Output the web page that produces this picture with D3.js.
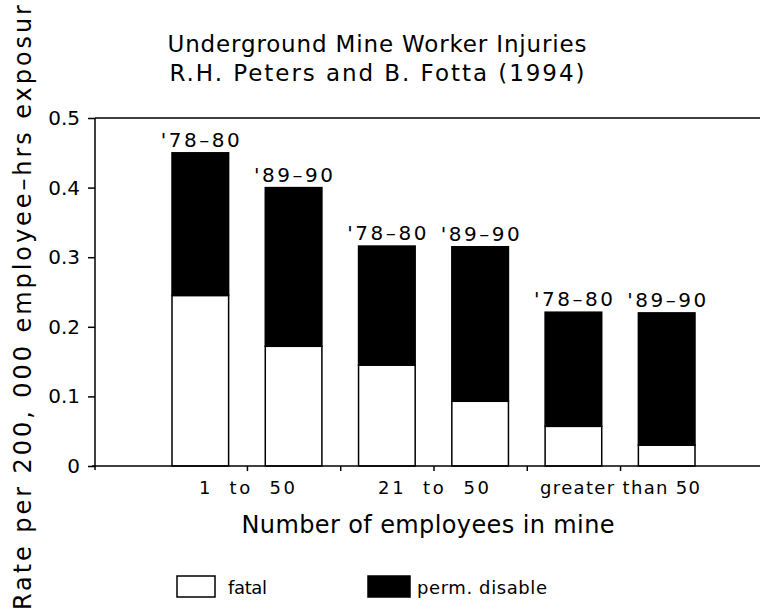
<!DOCTYPE html>
<html><head><meta charset="utf-8">
<script src="https://cdn.jsdelivr.net/npm/d3@7/dist/d3.min.js"></script>
<style>
body{margin:0;background:#fff}
text{font-family:"DejaVu Sans",sans-serif;fill:#000}
</style>
</head><body>
<svg id="c" width="760" height="613"></svg>
<script>
// ---- data ----
const titleLines = ["Underground Mine Worker Injuries", "R.H. Peters and B. Fotta (1994)"];
const groups = ["1  to  50", "21  to  50", "greater than 50"];
const periods = ["'78–80", "'89–90", "'78–80", "'89–90", "'78–80", "'89–90"];
const fatal = [0.245, 0.172, 0.145, 0.093, 0.057, 0.030];
const permDisable = [0.205, 0.228, 0.171, 0.222, 0.164, 0.190];
const yTicks = [0, 0.1, 0.2, 0.3, 0.4, 0.5];
const yTickLabels = ["0", "0.1", "0.2", "0.3", "0.4", "0.5"];
const seriesNames = ["fatal", "perm. disable"];
const xTitle = "Number of employees in mine";
const yTitle = "Rate per 200, 000 employee–hrs exposur";

// ---- layout ----
const svg = d3.select("#c");
const axisX = 95, axisRight = 760;
const y = d3.scaleLinear().domain([0, 0.5]).range([466, 118]);
const x = d3.scaleBand().domain(d3.range(periods.length)).range([172, 695]).paddingInner(0.393).paddingOuter(0);
const bw = x.bandwidth(), step = x.step();
const xc = d3.scaleLinear().domain([0, periods.length])
  .range([x(0) - (step - bw) / 2, x(periods.length - 1) + bw + (step - bw) / 2]);

function fitText(sel, len) { sel.attr("textLength", len).attr("lengthAdjust", "spacing"); return sel; }

// title
const titleY = [52, 81], titleW = [419, 415];
titleLines.forEach((t, i) => {
  fitText(svg.append("text").attr("x", 377).attr("y", titleY[i]).attr("text-anchor", "middle")
    .attr("font-size", 23).text(t), titleW[i]);
});

// y axis
const gy = svg.append("g").attr("transform", `translate(${axisX},0)`)
  .call(d3.axisLeft(y).tickValues(yTicks).tickFormat((d, i) => yTickLabels[i])
    .tickSize(7).tickSizeOuter(0).tickPadding(8));
gy.attr("font-size", 20).attr("font-family", "DejaVu Sans");
gy.select(".domain").remove();
gy.selectAll("line").attr("stroke", "#000").attr("stroke-width", 1.5);
gy.selectAll("text").attr("fill", "#000");
svg.append("line").attr("x1", axisX).attr("x2", axisX).attr("y1", y(0.5)).attr("y2", y(0) + 4)
  .attr("stroke", "#000").attr("stroke-width", 1.5);
// top frame line
svg.append("line").attr("x1", axisX).attr("x2", axisRight).attr("y1", y(0.5)).attr("y2", y(0.5))
  .attr("stroke", "#000").attr("stroke-width", 1.5);

// bars
const stacked = periods.map((p, i) => ({ i, fatal: fatal[i], perm: permDisable[i] }));
svg.append("g").selectAll("rect.fatal").data(stacked).join("rect")
  .attr("x", d => x(d.i)).attr("width", bw)
  .attr("y", d => y(d.fatal)).attr("height", d => y(0) - y(d.fatal))
  .attr("fill", "#fff").attr("stroke", "#000").attr("stroke-width", 1.5);
svg.append("g").selectAll("rect.perm").data(stacked).join("rect")
  .attr("x", d => x(d.i)).attr("width", bw)
  .attr("y", d => y(d.fatal + d.perm)).attr("height", d => y(d.fatal) - y(d.fatal + d.perm))
  .attr("fill", "#000").attr("stroke", "#000").attr("stroke-width", 1.5);

// bar labels
svg.append("g").selectAll("text").data(stacked).join("text")
  .attr("x", d => x(d.i) + bw / 2).attr("y", d => y(d.fatal + d.perm) - 6)
  .attr("text-anchor", "middle").attr("font-size", 20)
  .attr("textLength", 79).attr("lengthAdjust", "spacing")
  .text(d => periods[d.i]);

// x axis
const gx = svg.append("g").attr("transform", `translate(0,${y(0)})`)
  .call(d3.axisBottom(xc).tickValues(d3.range(1, periods.length)).tickFormat("").tickSize(5).tickSizeOuter(0));
gx.select(".domain").remove();
gx.selectAll("line").attr("stroke", "#000").attr("stroke-width", 1.5);
svg.append("line").attr("x1", axisX - 3).attr("x2", axisRight).attr("y1", y(0)).attr("y2", y(0))
  .attr("stroke", "#000").attr("stroke-width", 1.5);

// group labels
const groupW = [96, 111, 160];
groups.forEach((g, k) => {
  const cx = (x(2 * k) + x(2 * k + 1) + bw) / 2;
  fitText(svg.append("text").attr("x", cx).attr("y", 494).attr("text-anchor", "middle")
    .attr("font-size", 18).style("white-space", "pre").text(g), groupW[k]);
});

// axis titles
fitText(svg.append("text").attr("x", 428).attr("y", 533).attr("text-anchor", "middle")
  .attr("font-size", 24).text(xTitle), 373);
fitText(svg.append("text").attr("transform", "translate(31,610) rotate(-90)")
  .attr("text-anchor", "start").attr("font-size", 24).text(yTitle), 605);

// legend
const legX = [177, 368], legTextX = [228, 417], legTextW = [39, 130];
seriesNames.forEach((s, i) => {
  svg.append("rect").attr("x", legX[i]).attr("y", 576).attr("width", i ? 42 : 38).attr("height", 21)
    .attr("fill", i ? "#000" : "#fff").attr("stroke", "#000").attr("stroke-width", 1.5);
  fitText(svg.append("text").attr("x", legTextX[i]).attr("y", 594).attr("font-size", 18).text(s), legTextW[i]);
});
</script>
</body></html>
